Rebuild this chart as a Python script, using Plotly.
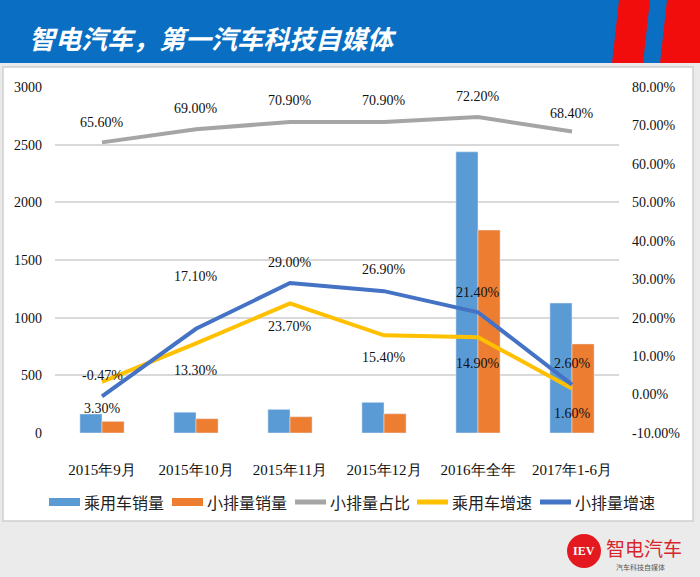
import plotly.graph_objects as go

categories = ["2015年9月", "2015年10月", "2015年11月", "2015年12月", "2016年全年", "2017年1-6月"]
passenger_sales = [165, 180, 205, 266, 2438, 1127]      # 乘用车销量
small_sales = [101, 124, 141, 167, 1760, 772]            # 小排量销量
small_share = [65.6, 69.0, 70.9, 70.9, 72.2, 68.4]       # 小排量占比 (%)
passenger_growth = [3.3, 13.3, 23.7, 15.4, 14.9, 1.6]    # 乘用车增速 (%)
small_growth = [-0.47, 17.1, 29.0, 26.9, 21.4, 2.6]      # 小排量增速 (%)

series_names = ["乘用车销量", "小排量销量", "小排量占比", "乘用车增速", "小排量增速"]

left_ticks = [0, 500, 1000, 1500, 2000, 2500, 3000]
right_ticks = [-10, 0, 10, 20, 30, 40, 50, 60, 70, 80]
right_tick_text = [f"{v:.2f}%" for v in right_ticks]

# label offsets (px, positive = up)
share_shift = [20, 21, 21, 21, 20, 18]
pgrowth_shift = [-27, -27, -23, -22, -26, -25]
sgrowth_shift = [21, 52, 21, 22, 20, 21]

W, H = 700, 577
L, R, T, B = 55, 81, 87, 144
PW, PH = W - L - R, H - T - B


def px(x):
    return (x - L) / PW


def py(y):
    return (H - B - y) / PH


BLUE_BAR = "#5B9BD5"
ORANGE = "#ED7D31"
GRAY = "#A5A5A5"
YELLOW = "#FFC000"
BLUE_LINE = "#4472C4"
colors = [BLUE_BAR, ORANGE, GRAY, YELLOW, BLUE_LINE]
SERIF = "Liberation Serif, Times New Roman, serif"
CJK = "Noto Sans CJK SC"

fig = go.Figure()
fig.add_trace(go.Bar(x=categories, y=passenger_sales, name=series_names[0],
                     marker_color=BLUE_BAR, yaxis="y"))
fig.add_trace(go.Bar(x=categories, y=small_sales, name=series_names[1],
                     marker_color=ORANGE, yaxis="y"))
fig.add_trace(go.Scatter(x=categories, y=small_share, name=series_names[2], mode="lines",
                         line=dict(color=GRAY, width=4), yaxis="y2"))
fig.add_trace(go.Scatter(x=categories, y=passenger_growth, name=series_names[3], mode="lines",
                         line=dict(color=YELLOW, width=4), yaxis="y2"))
fig.add_trace(go.Scatter(x=categories, y=small_growth, name=series_names[4], mode="lines",
                         line=dict(color=BLUE_LINE, width=4), yaxis="y2"))

annotations = []
for series, shifts in ((small_share, share_shift), (passenger_growth, pgrowth_shift),
                       (small_growth, sgrowth_shift)):
    for c, v, s in zip(categories, series, shifts):
        annotations.append(dict(x=c, y=v, xref="x", yref="y2", text=f"{v:.2f}%",
                                showarrow=False, yshift=s, xanchor="center", yanchor="middle",
                                font=dict(family=SERIF, size=14, color="#111")))

# header title
annotations.append(dict(x=px(27), y=py(37), xref="paper", yref="paper", xanchor="left",
                        yanchor="middle", showarrow=False,
                        text="<b><i>智电汽车，第一汽车科技自媒体</i></b>",
                        font=dict(family=CJK, size=26, color="white")))
# footer logo
annotations.append(dict(x=px(584), y=py(551), xref="paper", yref="paper", showarrow=False,
                        xanchor="center", yanchor="middle",
                        text="<b>IEV</b>", font=dict(family=SERIF, size=12, color="white")))
annotations.append(dict(x=px(604), y=py(547), xref="paper", yref="paper", xanchor="left",
                        yanchor="middle", showarrow=False, text="智电汽车",
                        font=dict(family=CJK, size=19, color="#D7262B")))
annotations.append(dict(x=px(641), y=py(567), xref="paper", yref="paper", showarrow=False,
                        xanchor="center", yanchor="middle",
                        text="汽车科技自媒体", font=dict(family=CJK, size=7, color="#555")))

shapes = [
    # chart panel
    dict(type="rect", xref="paper", yref="paper", x0=px(3), x1=px(693), y0=py(521), y1=py(67),
         fillcolor="white", line=dict(color="#d0d0d0", width=1.5), layer="below"),
    # header band
    dict(type="rect", xref="paper", yref="paper", x0=px(0), x1=px(700), y0=py(63), y1=py(0),
         fillcolor="#0A6FC2", line=dict(width=0), layer="below"),
    dict(type="path", xref="paper", yref="paper",
         path=f"M {px(619)},{py(0)} L {px(650)},{py(0)} L {px(643)},{py(63)} L {px(612)},{py(63)} Z",
         fillcolor="#F20D0D", line=dict(width=0), layer="below"),
    dict(type="path", xref="paper", yref="paper",
         path=f"M {px(667)},{py(0)} L {px(700)},{py(0)} L {px(700)},{py(63)} L {px(660)},{py(63)} Z",
         fillcolor="#F20D0D", line=dict(width=0), layer="below"),
    # footer logo circle
    dict(type="circle", xref="paper", yref="paper", x0=px(567), x1=px(601), y0=py(568), y1=py(534),
         fillcolor="#E3191F", line=dict(width=0), layer="below"),
]

# legend drawn as swatch + label rows
legend_x = [49, 172, 295, 417, 540]
legend_w = [8, 8, 5, 5, 5]
legend_y = 502
for name, col, x0, lw in zip(series_names, colors, legend_x, legend_w):
    shapes.append(dict(type="line", xref="paper", yref="paper", x0=px(x0), x1=px(x0 + 31),
                       y0=py(legend_y), y1=py(legend_y), line=dict(color=col, width=lw)))
    annotations.append(dict(x=px(x0 + 33), y=py(legend_y), xref="paper", yref="paper",
                            xanchor="left", yanchor="middle", showarrow=False, text=name,
                            font=dict(family=CJK, size=16, color="#222")))

fig.update_layout(
    width=W, height=H,
    margin=dict(l=L, r=R, t=T, b=B, pad=0),
    paper_bgcolor="#EBEBEB",
    plot_bgcolor="rgba(0,0,0,0)",
    barmode="group",
    bargap=0.53,
    bargroupgap=0,
    showlegend=False,
    xaxis=dict(type="category", showgrid=False, showline=False, zeroline=False,
               ticks="", ticklabelstandoff=26,
               tickfont=dict(family=SERIF, size=15, color="#111")),
    yaxis=dict(range=[0, 3000], tickvals=left_ticks, showgrid=True, gridcolor="#D9D9D9",
               gridwidth=1.5, zeroline=False, showline=False, ticks="", ticklabelstandoff=12,
               tickfont=dict(family=SERIF, size=14, color="#111")),
    yaxis2=dict(range=[-10, 80], tickmode="array", tickvals=right_ticks, ticktext=right_tick_text,
                overlaying="y", side="right",
                showgrid=False, zeroline=False, showline=False, ticks="", ticklabelstandoff=12,
                tickfont=dict(family=SERIF, size=14, color="#111")),
    annotations=annotations,
    shapes=shapes,
)

fig.write_html("out.html", config={"displayModeBar": False},
               post_script="document.body.style.margin='0';")
